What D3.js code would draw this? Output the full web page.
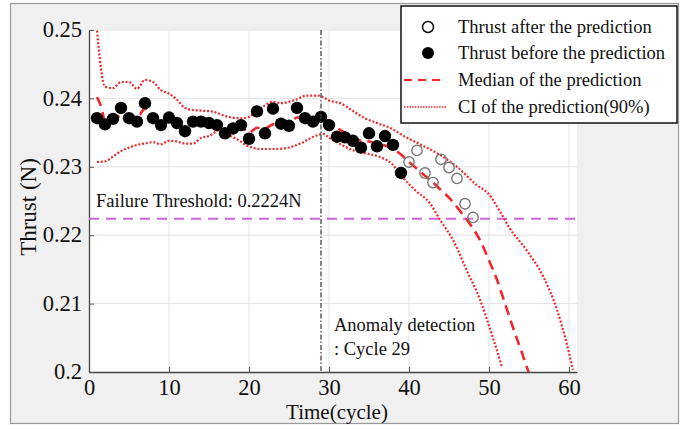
<!DOCTYPE html>
<html><head><meta charset="utf-8">
<script src="https://cdn.jsdelivr.net/npm/d3@7"></script>
<style>body{margin:0;background:#fff}svg{display:block}text{font-family:"Liberation Serif","Times New Roman",serif;fill:#111}</style>
</head><body><svg id="c" width="681" height="430"></svg>
<script>
// ---- data ----
const xTicks = [0,10,20,30,40,50,60];
const yTicks = [0.2,0.21,0.22,0.23,0.24,0.25];
const yTickLabels = ["0.2","0.21","0.22","0.23","0.24","0.25"];
const beforeCycles = [1,2,3,4,5,6,7,8,9,10,11,12,13,14,15,16,17,18,19,20,21,22,23,24,25,26,27,28,29,30,31,32,33,34,35,36,37,38,39];
const beforeThrust = [0.2371,0.2362,0.2370,0.2386,0.2371,0.2366,0.2393,0.2371,0.2361,0.2372,0.2364,0.2352,0.2366,0.2366,0.2364,0.2361,0.2349,0.2356,0.2361,0.2341,0.2381,0.2349,0.2385,0.2363,0.2360,0.2386,0.2371,0.2366,0.2373,0.2361,0.2344,0.2343,0.2338,0.2328,0.2349,0.2330,0.2345,0.2332,0.2291];
const afterCycles = [40,41,42,43,44,45,46,47,48];
const afterThrust = [0.2307,0.2324,0.2291,0.2277,0.2311,0.2299,0.2283,0.2246,0.2226];
const medianCycles = [1,1.6,2,3,4,5,6,7,8,9,10,11,12,13,14,15,16,17,18,19,20,21,22,23,24,25,26,27,28,29,30,31,32,33,34,35,36,37,38,39,40,41,42,43,44,45,46,47,48,49,50,51,52,53,54,55];
const medianThrust = [0.2402,0.2385,0.2366,0.2368,0.2375,0.2372,0.2372,0.2385,0.2372,0.2366,0.2368,0.2363,0.2356,0.2364,0.2365,0.2364,0.2360,0.2352,0.2355,0.2358,0.2350,0.2357,0.2356,0.2362,0.2363,0.2363,0.2372,0.2372,0.2370,0.2372,0.2366,0.2357,0.2350,0.2343,0.2338,0.2337,0.2334,0.2331,0.2326,0.2318,0.2307,0.2297,0.2287,0.2277,0.2266,0.2255,0.2241,0.2226,0.2210,0.2190,0.2163,0.2135,0.2100,0.2065,0.2032,0.1998];
const upperCycles = [1,2,3,4,5,6,7,8,9,10,11,12,13,14,15.3,17.4,19,20,21.2,23,24,25.8,27.2,28.7,30,31.6,32.8,34.5,36,37.8,39.5,41.2,43.5,46,48.5,49.9,51.4,52.6,54.7,56.8,58.5,59.7,60.5];
const upperThrust = [0.2499,0.2417,0.2415,0.2424,0.2424,0.2414,0.2427,0.2424,0.2412,0.2407,0.2398,0.2386,0.2383,0.2382,0.2381,0.2373,0.2371,0.2373,0.2383,0.2395,0.2393,0.2398,0.2404,0.2404,0.2397,0.2392,0.2383,0.2371,0.2364,0.2356,0.2344,0.2334,0.2320,0.2300,0.2273,0.2261,0.2234,0.2210,0.2178,0.2139,0.2091,0.2042,0.2003];
const lowerCycles = [1,2,3,4,5,6,7,8,9,10,11,12,13,14,15,16.4,17.4,18.7,19.9,21.6,23.2,24.9,26.6,28.25,29.3,30.1,31.6,32.8,34.5,36.2,37.8,39.1,40.75,42.6,43.9,45.5,47.2,48.9,50.3,51.6];
const lowerThrust = [0.2307,0.2308,0.2315,0.2323,0.2328,0.2332,0.2334,0.2336,0.2333,0.2338,0.2337,0.2334,0.2334,0.2342,0.2345,0.2354,0.2347,0.2339,0.2330,0.2326,0.2326,0.2328,0.2335,0.2345,0.2348,0.2342,0.2332,0.2325,0.2320,0.2315,0.2305,0.2286,0.2266,0.2247,0.2222,0.2193,0.2149,0.2105,0.2057,0.2008];
const threshold = 0.2224;
const anomalyCycle = 29;
const legendLabels = ["Thrust after the prediction","Thrust before the prediction","Median of the prediction","CI of the prediction(90%)"];

// ---- drawing ----
const svg = d3.select("#c");
const m = {l:89, r:577, t:30, b:372};
svg.append("rect").attr("x",10.5).attr("y",3.5).attr("width",668).attr("height",420)
  .attr("fill","#f0f0f0").attr("stroke","#9a9a9a").attr("stroke-width",1.2);

const x = d3.scaleLinear().domain([0,61]).range([m.l,m.r]);
const y = d3.scaleLinear().domain([0.2,0.25]).range([m.b,m.t]);

svg.append("rect").attr("x",m.l).attr("y",m.t).attr("width",m.r-m.l).attr("height",m.b-m.t).attr("fill","#fff");

const defs = svg.append("defs");
defs.append("clipPath").attr("id","clip").append("rect")
  .attr("x",m.l).attr("y",m.t-2).attr("width",m.r-m.l).attr("height",m.b-m.t+2);

// grid
const g = svg.append("g");
g.selectAll(".gx").data(xTicks.filter(d=>d>0)).enter().append("line")
  .attr("x1",d=>x(d)).attr("x2",d=>x(d)).attr("y1",m.t).attr("y2",m.b)
  .attr("stroke","#e3e3e3").attr("stroke-width",1);
g.selectAll(".gy").data(yTicks.filter(d=>d>0.2)).enter().append("line")
  .attr("y1",d=>y(d)).attr("y2",d=>y(d)).attr("x1",m.l).attr("x2",m.r)
  .attr("stroke","#e3e3e3").attr("stroke-width",1);

// axes
const xAxis = d3.axisBottom(x).tickValues(xTicks).tickSizeInner(-5).tickSizeOuter(0).tickPadding(8);
const yAxis = d3.axisLeft(y).tickValues(yTicks).tickSizeInner(-5).tickSizeOuter(0).tickPadding(7)
  .tickFormat((d,i)=>yTickLabels[i]);
const gx = svg.append("g").attr("transform",`translate(0,${m.b})`).call(xAxis);
const gy = svg.append("g").attr("transform",`translate(${m.l},0)`).call(yAxis);
[gx,gy].forEach(a=>{
  a.select(".domain").attr("stroke","#444").attr("stroke-width",1.3);
  a.selectAll(".tick line").attr("stroke","#555");
  a.selectAll(".tick text").attr("font-family","Liberation Serif").attr("font-size",22.5).attr("fill","#222");
});
gx.selectAll(".tick text").attr("dy","0.68em");
gy.selectAll(".tick text").attr("dy","0.3em");

const plot = svg.append("g").attr("clip-path","url(#clip)");
const red = "#f0282a";
const line = (xs,ys)=>d3.line().curve(d3.curveMonotoneX).x((d,i)=>x(xs[i])).y((d,i)=>y(ys[i]))(ys);

// threshold
plot.append("line").attr("x1",m.l).attr("x2",m.r).attr("y1",y(threshold)).attr("y2",y(threshold))
  .attr("stroke","#cc66dd").attr("stroke-width",2).attr("stroke-dasharray","10,7");
// anomaly vertical
svg.append("line").attr("x1",x(anomalyCycle)).attr("x2",x(anomalyCycle)).attr("y1",m.t).attr("y2",m.b)
  .attr("stroke","#444").attr("stroke-width",1.3).attr("stroke-dasharray","5,2,1.5,2");

// CI
plot.append("path").attr("d",line(upperCycles,upperThrust)).attr("fill","none")
  .attr("stroke",red).attr("stroke-width",2.2).attr("stroke-dasharray","2,1.8");
plot.append("path").attr("d",line(lowerCycles,lowerThrust)).attr("fill","none")
  .attr("stroke",red).attr("stroke-width",2.2).attr("stroke-dasharray","2,1.8");
// median
plot.append("path").attr("d",line(medianCycles,medianThrust)).attr("fill","none")
  .attr("stroke",red).attr("stroke-width",2.6).attr("stroke-dasharray","10,6");

// points
plot.selectAll(".bf").data(beforeThrust).enter().append("circle")
  .attr("cx",(d,i)=>x(beforeCycles[i])).attr("cy",d=>y(d)).attr("r",6.2).attr("fill","#000");
plot.selectAll(".af").data(afterThrust).enter().append("circle")
  .attr("cx",(d,i)=>x(afterCycles[i])).attr("cy",d=>y(d)).attr("r",5.2).attr("fill","none")
  .attr("stroke","#777").attr("stroke-width",1.4);

// annotations
svg.append("text").attr("x",96).attr("y",207).attr("font-size",18.5).text("Failure Threshold: "+threshold+"N");
svg.append("text").attr("x",334).attr("y",331).attr("font-size",18.5).text("Anomaly detection");
svg.append("text").attr("x",334).attr("y",355).attr("font-size",18.5).text(": Cycle "+anomalyCycle);

// axis labels
svg.append("text").attr("x",(m.l+x(60))/2+8).attr("y",419).attr("text-anchor","middle").attr("font-size",21).text("Time(cycle)");
svg.append("text").attr("transform",`translate(36,${(m.t+m.b)/2+6}) rotate(-90)`).attr("text-anchor","middle").attr("font-size",23).text("Thrust (N)");

// legend
const lg = svg.append("g");
lg.append("rect").attr("x",401).attr("y",6).attr("width",276).attr("height",117).attr("fill","#fff").attr("stroke","#111").attr("stroke-width",1.5);
const rows=[27,53,80,107];
lg.append("circle").attr("cx",428).attr("cy",rows[0]).attr("r",5.5).attr("fill","none").attr("stroke","#111").attr("stroke-width",1.5);
lg.append("circle").attr("cx",428).attr("cy",rows[1]).attr("r",6).attr("fill","#000");
lg.append("line").attr("x1",404).attr("x2",443).attr("y1",rows[2]).attr("y2",rows[2]).attr("stroke",red).attr("stroke-width",2.2).attr("stroke-dasharray","8,6");
lg.append("line").attr("x1",404).attr("x2",446).attr("y1",rows[3]).attr("y2",rows[3]).attr("stroke",red).attr("stroke-width",1.6).attr("stroke-dasharray","1.5,1.2");
lg.selectAll(".lt").data(legendLabels).enter().append("text")
  .attr("x",458).attr("y",(d,i)=>rows[i]+6).attr("font-size",18.5).text(d=>d);
</script></body></html>
